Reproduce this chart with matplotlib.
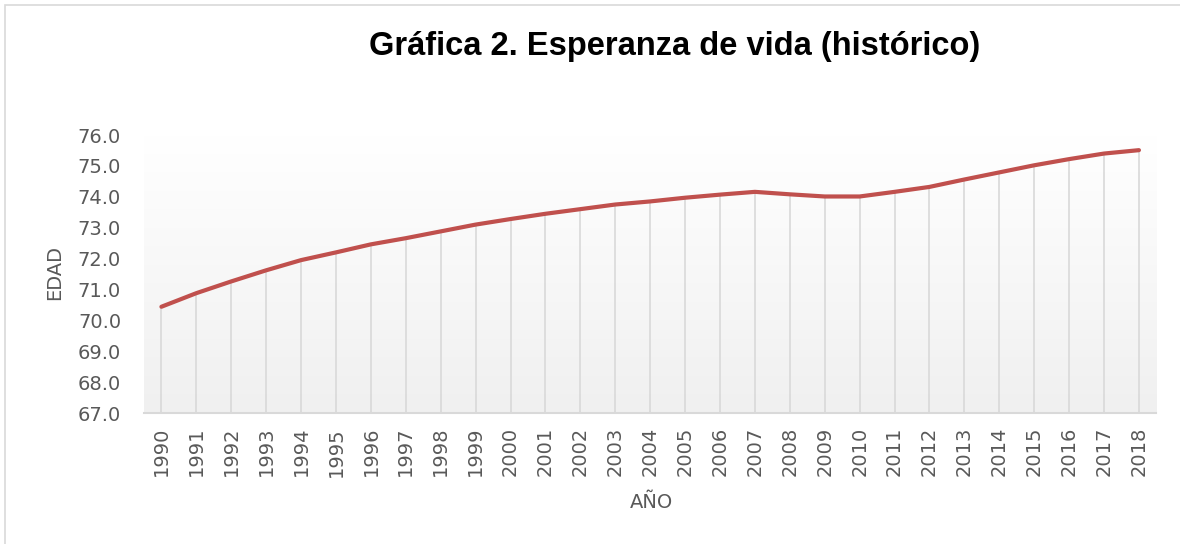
import numpy as np
import matplotlib
matplotlib.use("Agg")
import matplotlib.pyplot as plt
from matplotlib.patches import Rectangle

years = [str(y) for y in range(1990, 2019)]
esperanza = [70.44, 70.88, 71.26, 71.62, 71.95, 72.20, 72.46, 72.66, 72.88,
             73.10, 73.28, 73.45, 73.60, 73.75, 73.85, 73.97, 74.07, 74.16,
             74.08, 74.01, 74.01, 74.16, 74.32, 74.56, 74.79, 75.02, 75.22,
             75.40, 75.51]
yticks = [67.0, 68.0, 69.0, 70.0, 71.0, 72.0, 73.0, 74.0, 75.0, 76.0]

gray = '#595959'
plt.rcParams['font.family'] = ['DejaVu Sans']
fs = 14

fig = plt.figure(figsize=(11.8, 5.44), dpi=100)
fig.patches.append(Rectangle((5 / 1180, -0.1), 1.2, 1.1 - 5 / 544,
                             transform=fig.transFigure, fill=False,
                             edgecolor='#d9d9d9', lw=1.2))
ax = fig.add_axes([0.122, 0.2408, 0.858, 0.511])

x = np.arange(len(years))
ax.set_xlim(-0.5, len(years) - 0.5)

# fondo con degradado blanco -> gris claro
grad = np.linspace(1.0, 0.0, 256).reshape(-1, 1)
ax.imshow(grad, extent=[-0.5, len(years) - 0.5, 67, 76], aspect='auto',
          cmap=matplotlib.colors.LinearSegmentedColormap.from_list('g', ['#f0f0f0', '#ffffff']),
          vmin=0, vmax=1, zorder=0)
ax.set_ylim(67, 76)

ax.vlines(x, 67, esperanza, colors='#d9d9d9', lw=1.2, zorder=1)
ax.plot(x, esperanza, color='#c0504d', lw=3, solid_capstyle='round', zorder=3)

for s in ['top', 'right', 'left']:
    ax.spines[s].set_visible(False)
ax.spines['bottom'].set_color('#d9d9d9')
ax.spines['bottom'].set_linewidth(1.5)

ax.set_xticks(x)
ax.set_xticklabels(years, rotation=90, fontsize=fs, color=gray)
ax.set_yticks(yticks)
ax.set_yticklabels(['%.1f' % v for v in yticks], fontsize=fs, color=gray)
ax.tick_params(length=0, pad=10)
ax.tick_params(axis='y', pad=16.5)

fig.text(55 / 1180, 1 - 272 / 544, 'EDAD', rotation=90, ha='center', va='center',
         fontsize=fs, color=gray)
fig.text(651 / 1180, 1 - 503 / 544, 'AÑO', ha='center', va='center',
         fontsize=fs, color=gray)
fig.text(675 / 1180, 1 - 47 / 544, 'Gráfica 2. Esperanza de vida (histórico)',
         ha='center', va='center', fontsize=23.5, fontweight='bold',
         family=['Liberation Sans', 'DejaVu Sans'], color='black')

fig.savefig('out.png', dpi=100, facecolor='white')
